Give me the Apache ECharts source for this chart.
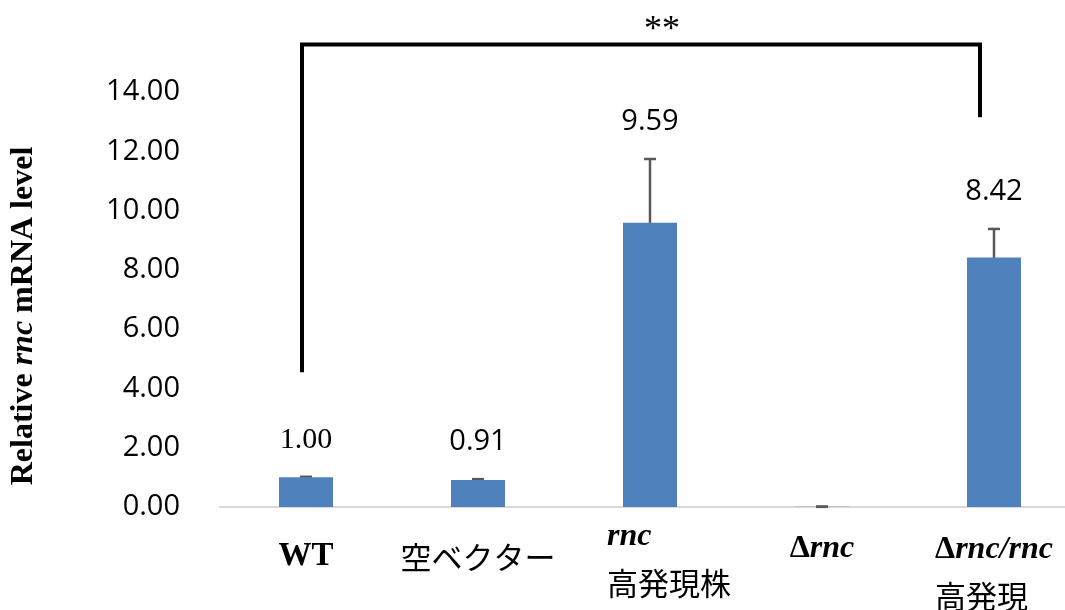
<!DOCTYPE html>
<html>
<head>
<meta charset="utf-8">
<script src="https://cdn.jsdelivr.net/npm/echarts@6/dist/echarts.min.js"></script>
<style>
  html, body { margin: 0; padding: 0; background: #fff; }
  #chart { width: 1065px; height: 610px; }
</style>
</head>
<body>
<div id="chart"></div>
<script>
// Strains and their relative rnc mRNA levels (mean ± error)
const categories = ['WT', '空ベクター', 'rnc\n高発現株', 'Δrnc', 'Δrnc/rnc\n高発現'];
const expression = [1.00, 0.91, 9.59, 0.01, 8.42];
const errors = [0.02, 0.03, 2.15, 0.005, 0.96];
const labelled = [true, true, true, false, true];

// Value axis ticks
const yMin = 0;
const yMax = 14;
const yStep = 2;

// Significance bracket between WT and Δrnc/rnc
const bracketEnds = [0, 4];
const bracketLevels = [4.55, 15.6, 13.15]; // left foot, bar, right foot
const significance = '**';

// Per-category label nudges [top, right, bottom, left]
const labelPads = [[19, 0, 0, 0], [20, 0, 0, 0], [0, 0, 0, 38], [12, 0, 0, 0], [13, 0, 0, 0]];

const SANS = '"Open Sans", "Noto Sans", sans-serif';
const SERIF = '"Liberation Serif", "DejaVu Serif", serif';
const CJK = '"Noto Sans CJK JP", sans-serif';

function richLine(line) {
  if (/[\u3000-\u9fff]/.test(line)) return '{jp|' + line + '}';
  if (line === 'WT') return '{b|' + line + '}';
  if (line[0] === 'Δ') return '{d|Δ}{i|' + line.slice(1) + '}';
  return '{i|' + line + '}';
}

const chart = echarts.init(document.getElementById('chart'), null, { renderer: 'canvas' });

chart.setOption({
  animation: false,
  backgroundColor: '#ffffff',
  grid: {
    left: 220, top: 92, width: 860, height: 415,
    containLabel: false,
    outerBoundsMode: 'none'
  },
  xAxis: {
    type: 'category',
    data: categories.map((c, i) => ({ value: c, textStyle: { padding: labelPads[i] } })),
    axisLine: { show: true, lineStyle: { color: '#d9d9d9', width: 2 } },
    axisTick: { show: false },
    axisLabel: {
      interval: 0,
      margin: 7,
      verticalAlign: 'top',
      color: '#000',
      formatter: v => v.split('\n').map(richLine).join('\n'),
      rich: {
        b: { fontFamily: SERIF, fontWeight: 'bold', fontSize: 33, lineHeight: 46, color: '#000', align: 'left' },
        d: { fontFamily: SERIF, fontWeight: 'bold', fontSize: 32, lineHeight: 46, color: '#000', align: 'left' },
        i: { fontFamily: SERIF, fontWeight: 'bold', fontStyle: 'italic', fontSize: 32, lineHeight: 46, color: '#000', align: 'left' },
        jp: { fontFamily: CJK, fontSize: 31, lineHeight: 46, color: '#000', align: 'left' }
      }
    },
    splitLine: { show: false }
  },
  yAxis: {
    type: 'value',
    min: yMin,
    max: yMax,
    interval: yStep,
    axisLine: { show: false },
    axisTick: { show: false },
    splitLine: { show: false },
    axisLabel: {
      margin: 40,
      color: '#000',
      fontFamily: SANS,
      fontSize: 29,
      formatter: v => v.toFixed(2)
    }
  },
  graphic: [{
    type: 'text',
    x: 24,
    y: 316,
    rotation: Math.PI / 2,
    style: {
      text: '{b|Relative }{i|rnc}{b| mRNA level}',
      textAlign: 'center',
      textVerticalAlign: 'middle',
      rich: {
        b: { fontFamily: SERIF, fontWeight: 'bold', fontSize: 32, fill: '#000' },
        i: { fontFamily: SERIF, fontWeight: 'bold', fontStyle: 'italic', fontSize: 32, fill: '#000' }
      }
    }
  }],
  series: [
    {
      type: 'bar',
      data: expression,
      barWidth: 54,
      itemStyle: { color: '#4f81bd' },
      silent: true
    },
    {
      // error bars with the value printed above each one
      type: 'custom',
      silent: true,
      clip: false,
      encode: { x: 0, y: 1 },
      data: expression.map((v, i) => [i, v, errors[i]]),
      renderItem(params, api) {
        const i = api.value(0);
        const m = api.value(1);
        const e = api.value(2);
        const top = api.coord([i, m + e]);
        const bot = api.coord([i, m - e]);
        const cap = 6;
        const style = { stroke: '#595959', lineWidth: 2.5 };
        const children = [
          { type: 'line', shape: { x1: top[0], y1: top[1], x2: bot[0], y2: bot[1] }, style },
          { type: 'line', shape: { x1: top[0] - cap, y1: top[1], x2: top[0] + cap, y2: top[1] }, style },
          { type: 'line', shape: { x1: bot[0] - cap, y1: bot[1], x2: bot[0] + cap, y2: bot[1] }, style }
        ];
        if (labelled[i]) {
          children.push({
            type: 'text',
            x: top[0],
            y: top[1] - 37,
            style: {
              text: m.toFixed(2),
              fill: '#000',
              fontFamily: i === 0 ? SERIF : SANS,
              fontSize: i === 0 ? 30 : 29,
              textAlign: 'center',
              textVerticalAlign: 'middle'
            }
          });
        }
        return { type: 'group', children };
      }
    },
    {
      // significance bracket
      type: 'custom',
      silent: true,
      clip: false,
      encode: { x: 0, y: 1 },
      data: [[bracketEnds[0], bracketLevels[1]]],
      renderItem(params, api) {
        const l = api.coord([bracketEnds[0], bracketLevels[0]]);
        const lt = api.coord([bracketEnds[0], bracketLevels[1]]);
        const r = api.coord([bracketEnds[1], bracketLevels[2]]);
        const rt = api.coord([bracketEnds[1], bracketLevels[1]]);
        const xl = l[0] - 4;
        const xr = r[0] - 14;
        return {
          type: 'group',
          children: [
            {
              type: 'polyline',
              shape: { points: [[xl, l[1]], [xl, lt[1]], [xr, rt[1]], [xr, r[1]]] },
              style: { stroke: '#000', lineWidth: 4, fill: null, lineJoin: 'miter' }
            },
            {
              type: 'text',
              x: (xl + xr) / 2 + 21,
              y: lt[1] - 14,
              style: {
                text: significance,
                fill: '#000',
                fontFamily: SERIF,
                fontSize: 36,
                textAlign: 'center',
                textVerticalAlign: 'middle'
              }
            }
          ]
        };
      }
    }
  ]
});
</script>
</body>
</html>
